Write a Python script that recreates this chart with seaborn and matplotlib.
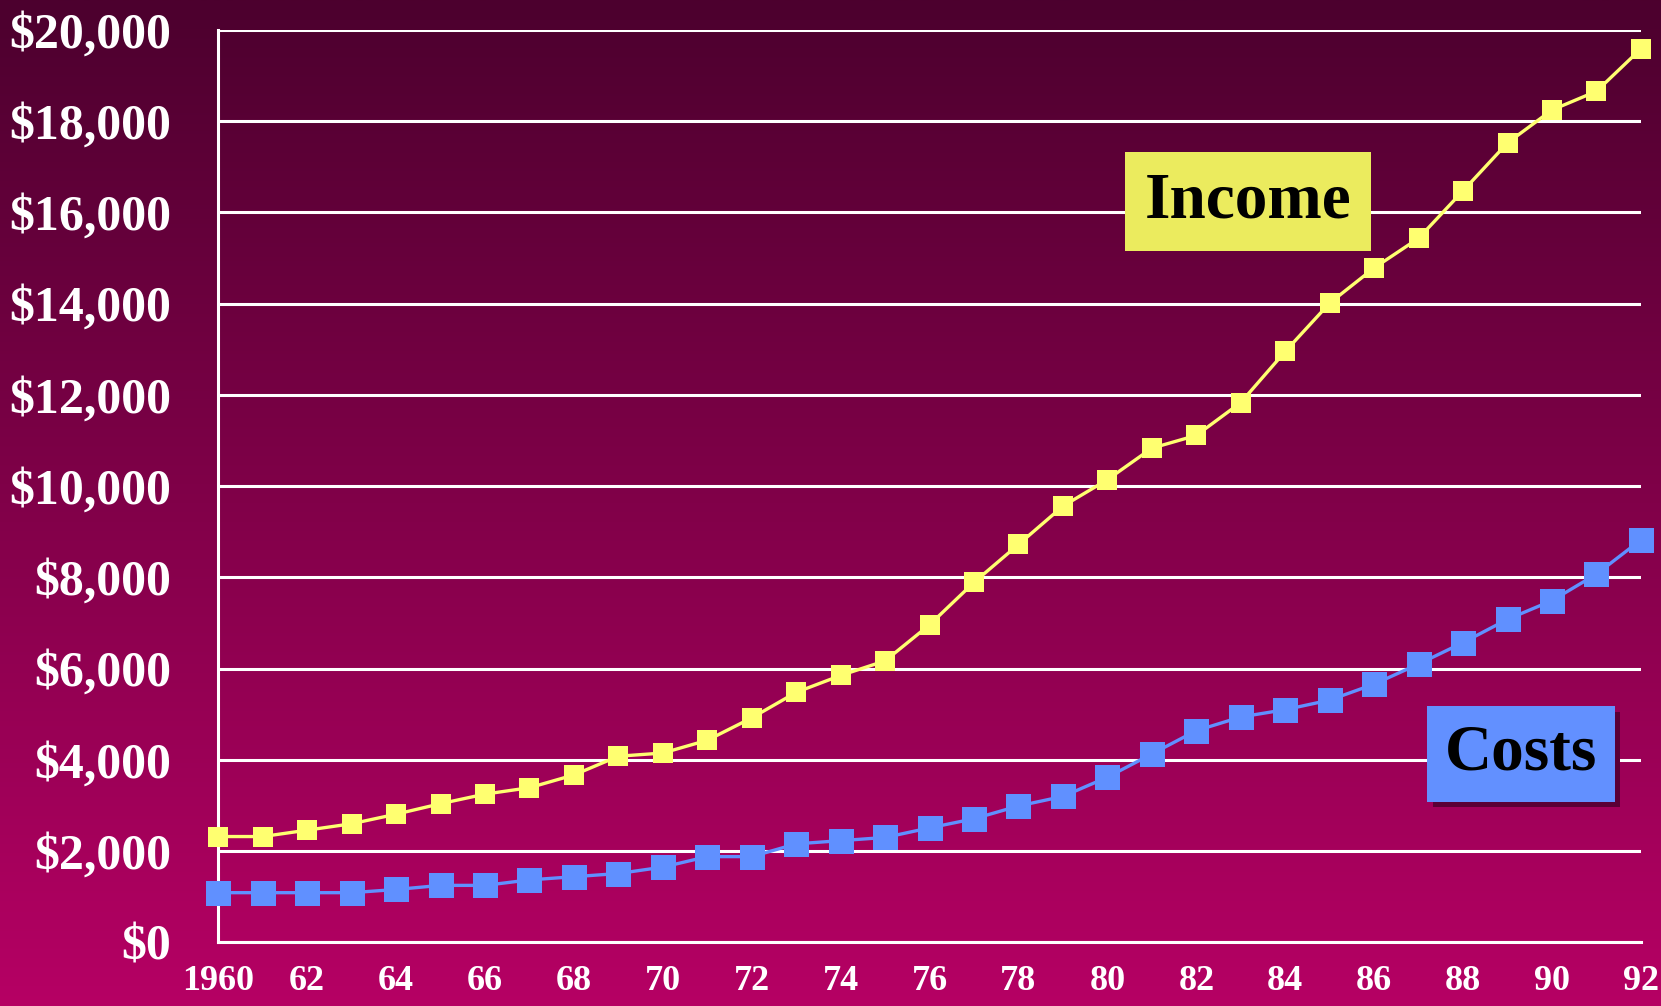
import numpy as np
import pandas as pd
import matplotlib
matplotlib.use("Agg")
import matplotlib.pyplot as plt
import matplotlib.patheffects as pe
import seaborn as sns

years = list(range(1960, 1993))
income = [2320, 2320, 2460, 2600, 2810, 3040, 3250, 3390, 3670, 4080, 4150,
          4430, 4920, 5480, 5850, 6170, 6960, 7890, 8720, 9560, 10140, 10830,
          11110, 11830, 12950, 14010, 14780, 15430, 16470, 17520, 18240, 18650, 19580]
costs = [1090, 1090, 1090, 1090, 1160, 1250, 1250, 1370, 1440, 1510, 1650,
         1880, 1880, 2160, 2230, 2300, 2510, 2710, 2990, 3200, 3620, 4130,
         4640, 4940, 5100, 5310, 5660, 6100, 6570, 7080, 7490, 8070, 8820]
xtick_labels = ["1960" if y == 1960 else (f"{y % 100:02d}" if y % 2 == 0 else "") for y in years]
ytick_values = list(range(0, 20001, 2000))
ytick_labels = [f"${v:,}" for v in ytick_values]

sns.set_theme(style="white")
plt.rcParams['font.family'] = ['Liberation Serif', 'DejaVu Serif']
plt.rcParams['font.weight'] = 'bold'

fig = plt.figure(figsize=(16.61, 10.06), dpi=100)

# background gradient
bg = fig.add_axes([0, 0, 1, 1], zorder=-10)
top = np.array([76, 0, 46]) / 255
bot = np.array([182, 0, 100]) / 255
t = np.linspace(0, 1, 512)[:, None]
grad = (top[None, :] * (1 - t) + bot[None, :] * t)[:, None, :]
bg.imshow(grad, aspect='auto', extent=[0, 1, 0, 1], interpolation='bilinear')
bg.set_axis_off()

ax = fig.add_axes([0.1314, 0.0632, 0.9879 - 0.1314, 0.9705 - 0.0632])
ax.set_facecolor('none')

df = pd.DataFrame({"Year": years * 2,
                   "Value": income + costs,
                   "Series": ["Income"] * len(years) + ["Costs"] * len(years)})

sns.lineplot(data=df[df.Series == "Income"], x="Year", y="Value", ax=ax,
             color="#FFFF70", marker="s", markersize=15, markeredgewidth=0,
             linewidth=2.4, clip_on=False, zorder=5)
sns.lineplot(data=df[df.Series == "Costs"], x="Year", y="Value", ax=ax,
             color="#6090FF", marker="s", markersize=18, markeredgewidth=0,
             linewidth=2.4, clip_on=False, zorder=5)

ax.set_xlim(1960, 1992)
ax.set_ylim(0, 20000)
ax.set_xticks(years)
ax.set_xticklabels(xtick_labels)
ax.set_yticks(ytick_values)
ax.set_yticklabels(ytick_labels)
ax.grid(axis='y', color='white', linewidth=2.2, zorder=1)
ax.grid(axis='x', visible=False)
ax.set_axisbelow(True)
for s in ['top', 'right']:
    ax.spines[s].set_visible(False)
for s in ['left', 'bottom']:
    ax.spines[s].set_color('white')
    ax.spines[s].set_linewidth(2.2)
ax.tick_params(axis='x', direction='inout', length=18, width=2, color='white',
               labelsize=26, labelcolor='white', pad=7)
ax.tick_params(axis='y', direction='out', length=12, width=2, color='white',
               labelsize=36, labelcolor='white', pad=22)
for lab in ax.get_xticklabels() + ax.get_yticklabels():
    lab.set_fontweight('bold')
ax.set_xlabel("")
ax.set_ylabel("")
leg = ax.get_legend()
if leg:
    leg.remove()

ax.text(1983.16, 16240, "Income", ha='center', va='center', fontsize=47,
        fontweight='bold', color='black', zorder=6,
        bbox=dict(boxstyle='square,pad=0.3', fc='#EBEB5E', ec='none'))

ct = ax.text(1989.3, 4130, "Costs", ha='center', va='center', fontsize=47,
             fontweight='bold', color='black', zorder=7,
             bbox=dict(boxstyle='square,pad=0.27', fc='#6290FF', ec='none'))
ct.get_bbox_patch().set_path_effects([
    pe.SimplePatchShadow(offset=(4, -4), shadow_rgbFace='#5A0035', alpha=1.0),
    pe.Normal()])

fig.savefig("out.png", dpi=100)
